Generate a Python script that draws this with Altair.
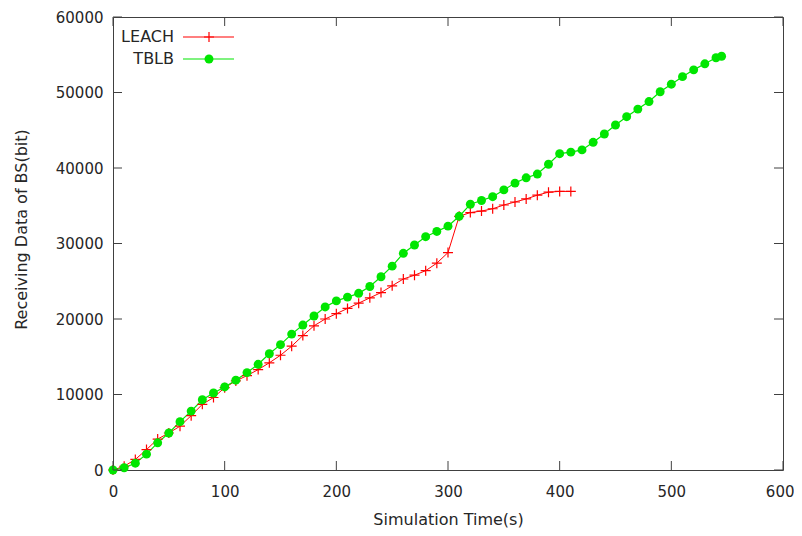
import altair as alt
import pandas as pd

# ---- data ----
leach_time = [0, 10, 20, 30, 40, 50, 60, 70, 80, 90, 100, 110, 120, 130, 140, 150, 160, 170, 180, 190,
              200, 210, 220, 230, 240, 250, 260, 270, 280, 290, 300, 310, 320, 330, 340, 350, 360, 370,
              380, 390, 400, 410]
leach_bits = [0, 500, 1400, 2700, 4100, 4900, 5800, 7200, 8700, 9600, 10900, 11800, 12500, 13300, 14200,
              15200, 16400, 17800, 19100, 20000, 20700, 21400, 22100, 22800, 23500, 24400, 25300, 25800,
              26400, 27400, 28800, 33600, 34100, 34300, 34600, 35100, 35500, 35900, 36400, 36800, 36900,
              36900]
tblb_time = [0, 10, 20, 30, 40, 50, 60, 70, 80, 90, 100, 110, 120, 130, 140, 150, 160, 170, 180, 190,
             200, 210, 220, 230, 240, 250, 260, 270, 280, 290, 300, 310, 320, 330, 340, 350, 360, 370,
             380, 390, 400, 410, 420, 430, 440, 450, 460, 470, 480, 490, 500, 510, 520, 530, 540, 545]
tblb_bits = [0, 300, 900, 2100, 3600, 4900, 6400, 7800, 9300, 10200, 11000, 11900, 12900, 14000, 15400,
             16600, 18000, 19200, 20400, 21600, 22400, 22900, 23400, 24300, 25600, 27000, 28700, 29800,
             30900, 31600, 32300, 33600, 35200, 35700, 36200, 37100, 38000, 38700, 39200, 40500, 41900,
             42100, 42400, 43400, 44500, 45700, 46800, 47800, 48800, 50100, 51100, 52100, 53000, 53800,
             54600, 54800]
x_ticks = [0, 100, 200, 300, 400, 500, 600]
y_ticks = [0, 10000, 20000, 30000, 40000, 50000, 60000]
series_names = ["LEACH", "TBLB"]

leach = pd.DataFrame({"t": leach_time, "v": leach_bits})
tblb = pd.DataFrame({"t": tblb_time, "v": tblb_bits})
xt = pd.DataFrame({"t": x_ticks})
yt = pd.DataFrame({"v": y_ticks})

W, H = 670, 453
RED = "#ff0000"
GREEN = "#00e600"
FRAME = "#404040"
TEXT = "#262626"
FONT = "DejaVu Sans"
PLUS = "M-1,0L1,0M0,-1L0,1"
TL = 9

xs = alt.Scale(domain=[0, 600], nice=False, zero=False)
ys = alt.Scale(domain=[0, 60000], nice=False, zero=False)

xaxis = alt.Axis(values=x_ticks, title="Simulation Time(s)", tickSize=0, domain=False, grid=False,
                 labelPadding=14, labelFontSize=15, labelFont=FONT, labelColor=TEXT,
                 labelAlign={"condition": {"test": "datum.value == 600", "value": "right"}, "value": "center"},
                 labelOffset={"condition": {"test": "datum.value == 600", "value": 11}, "value": 0},
                 titleFont=FONT, titleFontSize=16, titleFontWeight="normal", titleColor=TEXT,
                 titleX=335, titleY=54, titleBaseline="alphabetic", titleAlign="center",
                 labelFlush=False, labelOverlap=False)
yaxis = alt.Axis(values=y_ticks, title="Receiving Data of BS(bit)", tickSize=0, domain=False, grid=False,
                 labelPadding=10, labelFontSize=15, labelFont=FONT, labelColor=TEXT, format="d",
                 titleFont=FONT, titleFontSize=16, titleFontWeight="normal", titleColor=TEXT,
                 titleX=-92, titleY=212, titleBaseline="middle", titleAlign="center", titleAngle=-90,
                 labelFlush=False, labelOverlap=False)

X = alt.X("t:Q", scale=xs, axis=xaxis)
Y = alt.Y("v:Q", scale=ys, axis=yaxis)

leach_line = alt.Chart(leach).mark_line(color=RED, strokeWidth=1, clip=False).encode(x=X, y=Y)
leach_pts = alt.Chart(leach).mark_point(shape=PLUS, filled=False, stroke=RED, strokeWidth=1.2,
                                         size=100, opacity=1, clip=False).encode(x=X, y=Y)
tblb_line = alt.Chart(tblb).mark_line(color=GREEN, strokeWidth=1.2, clip=False).encode(x=X, y=Y)
tblb_pts = alt.Chart(tblb).mark_circle(color=GREEN, size=80, opacity=1, clip=False).encode(x=X, y=Y)

# inward ticks on all four borders
tick_b = alt.Chart(xt).mark_rule(color=FRAME, strokeWidth=1).encode(
    x=X, y=alt.value(H), y2=alt.value(H - TL))
tick_t = alt.Chart(xt).mark_rule(color=FRAME, strokeWidth=1).encode(
    x=X, y=alt.value(0), y2=alt.value(TL))
tick_l = alt.Chart(yt).mark_rule(color=FRAME, strokeWidth=1).encode(
    y=Y, x=alt.value(0), x2=alt.value(TL))
tick_r = alt.Chart(yt).mark_rule(color=FRAME, strokeWidth=1).encode(
    y=Y, x=alt.value(W - TL), x2=alt.value(W))

# legend (label left, sample right), top-left inside the frame
def legend_entry(name, ypos, color, point):
    d = pd.DataFrame({"label": [name]})
    txt = alt.Chart(d).mark_text(align="right", baseline="middle", font=FONT, fontSize=16,
                                 color=TEXT).encode(text="label:N", x=alt.value(61), y=alt.value(ypos))
    ln = alt.Chart(d).mark_rule(color=color, strokeWidth=1.2).encode(
        x=alt.value(70), x2=alt.value(121), y=alt.value(ypos))
    return txt + ln + point.encode(x=alt.value(96), y=alt.value(ypos))

leg1 = legend_entry(series_names[0], 20, RED,
                    alt.Chart(pd.DataFrame({"label": [series_names[0]]})).mark_point(
                        shape=PLUS, filled=False, stroke=RED, strokeWidth=1.2, size=100, opacity=1))
leg2 = legend_entry(series_names[1], 42, GREEN,
                    alt.Chart(pd.DataFrame({"label": [series_names[1]]})).mark_circle(
                        color=GREEN, size=80, opacity=1))

chart = alt.layer(leach_line, tblb_line, leach_pts, tblb_pts, tick_b, tick_t, tick_l, tick_r,
                  leg1, leg2).properties(
    width=W, height=H,
    autosize=alt.AutoSizeParams(type="none"),
    padding={"left": 105, "top": 9, "right": 11, "bottom": 58},
    background="white",
).configure_view(stroke=FRAME, strokeWidth=1)

chart.save("out.html", embed_options={"renderer": "svg", "actions": False})
